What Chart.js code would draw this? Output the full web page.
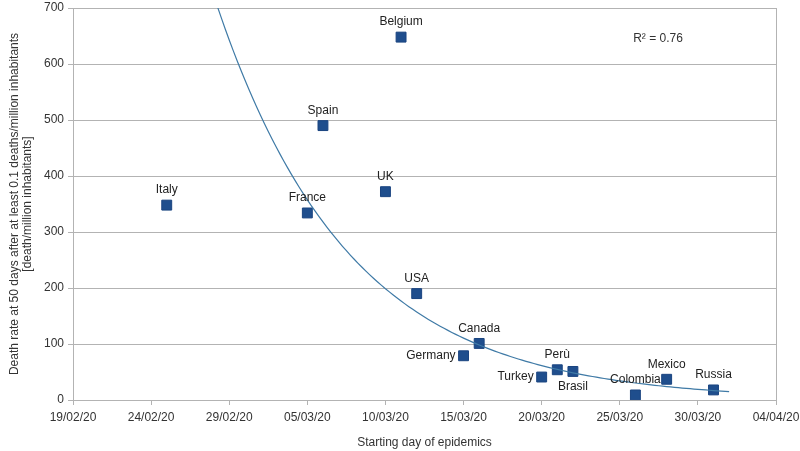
<!DOCTYPE html>
<html>
<head>
<meta charset="utf-8">
<script src="https://cdn.jsdelivr.net/npm/chart.js@4/dist/chart.umd.min.js"></script>
<style>
  html, body { margin: 0; padding: 0; background: #fff; }
  #grafico { display: block; }
</style>
</head>
<body>
<canvas id="grafico" width="800" height="451"></canvas>
<script>
// dados
const paises = ["Italy", "Belgium", "Spain", "UK", "France", "USA", "Canada",
  "Germany", "Turkey", "Perù", "Brasil", "Colombia", "Mexico", "Russia"];
const diaInicio = ["25/02/20", "11/03/20", "06/03/20", "10/03/20", "05/03/20", "12/03/20", "16/03/20",
  "15/03/20", "20/03/20", "21/03/20", "22/03/20", "26/03/20", "28/03/20", "31/03/20"];
const taxaMortes = [348, 648, 490, 372, 334, 190, 101, 79, 41, 54, 51, 9, 37, 18];
const ticksX = ["19/02/20", "24/02/20", "29/02/20", "05/03/20", "10/03/20",
  "15/03/20", "20/03/20", "25/03/20", "30/03/20", "04/04/20"];
const ticksY = [0, 100, 200, 300, 400, 500, 600, 700];
const textoR2 = "R² = 0.76";

// onde fica o rotulo de cada pais (padrao: acima)
const ladoRotulo = { "Germany": "left", "Turkey": "left", "Brasil": "below" };

function paraDias(txt) {
  let p = txt.split("/");
  let base = Date.UTC(2020, 1, 19);
  let d = Date.UTC(2000 + Number(p[2]), Number(p[1]) - 1, Number(p[0]));
  return Math.round((d - base) / 86400000);
}

const pontos = paises.map(function (nome, i) {
  return { x: paraDias(diaInicio[i]), y: taxaMortes[i], nome: nome };
});

// linha de tendencia exponencial (minimos quadrados em ln y)
let n = pontos.length;
let mx = pontos.reduce((s, p) => s + p.x, 0) / n;
let my = pontos.reduce((s, p) => s + Math.log(p.y), 0) / n;
let sxy = 0, sxx = 0;
pontos.forEach(function (p) {
  sxy += (p.x - mx) * (Math.log(p.y) - my);
  sxx += (p.x - mx) * (p.x - mx);
});
let b = sxy / sxx;
let a = my - b * mx;
let xMin = Math.min(...pontos.map(p => p.x));
let xMax = Math.max(...pontos.map(p => p.x)) + 1;
const tendencia = [];
for (let x = xMin; x <= xMax + 0.001; x += 0.25) {
  tendencia.push({ x: x, y: Math.exp(a + b * x) });
}

const fonte = { family: "'Liberation Sans', Arial, sans-serif", size: 12 };

const rotulos = {
  id: "rotulosPaises",
  afterDatasetsDraw(chart) {
    const ctx = chart.ctx;
    const meta = chart.getDatasetMeta(1);
    ctx.save();
    ctx.font = "12px 'Liberation Sans', Arial, sans-serif";
    ctx.fillStyle = "#222";
    meta.data.forEach(function (el, i) {
      let nome = pontos[i].nome;
      let lado = ladoRotulo[nome] || "above";
      if (lado == "left") {
        ctx.textAlign = "right";
        ctx.textBaseline = "middle";
        ctx.fillText(nome, el.x - 8, el.y);
      } else if (lado == "below") {
        ctx.textAlign = "center";
        ctx.textBaseline = "middle";
        ctx.fillText(nome, el.x, el.y + 15);
      } else {
        ctx.textAlign = "center";
        ctx.textBaseline = "middle";
        ctx.fillText(nome, el.x, el.y - 15);
      }
    });
    ctx.textAlign = "center";
    ctx.textBaseline = "middle";
    ctx.fillStyle = "#333";
    ctx.fillText(textoR2, 658, 39);
    ctx.restore();
  },
};

new Chart(document.getElementById("grafico"), {
  type: "scatter",
  plugins: [rotulos],
  data: {
    datasets: [
      {
        label: "tendencia",
        data: tendencia,
        showLine: true,
        borderColor: "#3f7aa6",
        borderWidth: 1.2,
        pointRadius: 0,
        tension: 0,
      },
      {
        label: "paises",
        data: pontos,
        pointStyle: "rect",
        pointRadius: 7,
        backgroundColor: "#1f4e8d",
        borderColor: "#1a4480",
        borderWidth: 1,
      },
    ],
  },
  options: {
    responsive: false,
    animation: false,
    layout: { padding: { left: 0, right: 24, top: 6, bottom: 0 } },
    plugins: {
      legend: { display: false },
      tooltip: { enabled: false },
    },
    scales: {
      x: {
        type: "linear",
        min: 0,
        max: 45,
        afterBuildTicks: function (scale) {
          scale.ticks = ticksX.map((t, i) => ({ value: i * 5 }));
        },
        ticks: {
          callback: function (value) {
            return ticksX[Math.round(value / 5)];
          },
          maxRotation: 0,
          autoSkip: false,
          padding: 5,
          color: "#333",
          font: fonte,
        },
        grid: {
          color: (c) => (c.tick && c.tick.value === 45 ? "#b3b3b3" : "rgba(0,0,0,0)"),
          tickColor: "#b3b3b3",
          tickLength: 5,
        },
        border: { color: "#b3b3b3" },
        title: {
          display: true,
          text: "Starting day of epidemics",
          color: "#333",
          font: fonte,
          padding: { top: 6, bottom: 1 },
        },
        afterFit: function (scale) {
          scale.height = 51;
          scale.paddingLeft = 0;
          scale.paddingRight = 0;
        },
      },
      y: {
        min: 0,
        max: 700,
        afterBuildTicks: function (scale) {
          scale.ticks = ticksY.map((v) => ({ value: v }));
        },
        ticks: {
          padding: 4,
          color: "#333",
          font: fonte,
        },
        grid: {
          color: "#b3b3b3",
          tickColor: "#b3b3b3",
          tickLength: 5,
        },
        border: { color: "#b3b3b3" },
        title: {
          display: true,
          text: ["Death rate at 50 days after at least 0.1 deaths/million inhabitants",
            "[death/million inhabitants]"],
          color: "#333",
          font: { family: fonte.family, size: 12, lineHeight: 1.1 },
          padding: { top: 8, bottom: 0 },
        },
        afterFit: function (scale) {
          scale.width = 73;
          scale.paddingTop = 0;
          scale.paddingBottom = 0;
        },
      },
    },
  },
});
</script>
</body>
</html>
